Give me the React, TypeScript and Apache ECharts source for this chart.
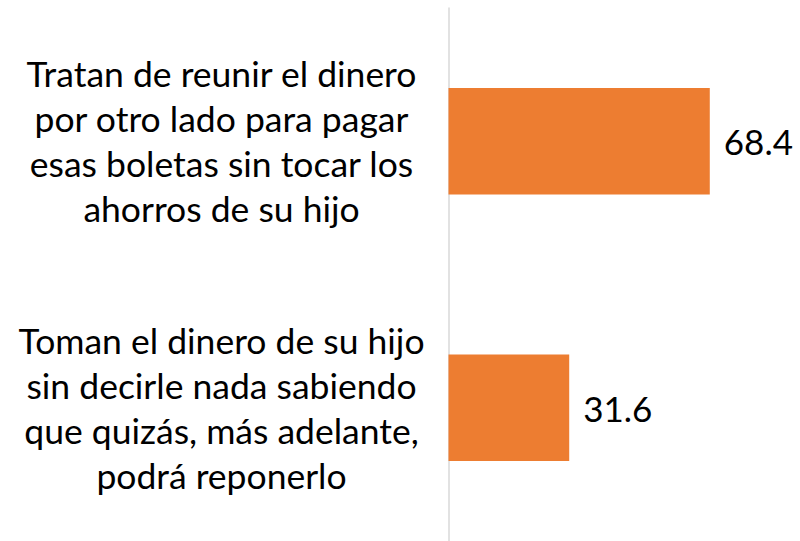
import React, { useEffect, useRef } from "react";
import * as echarts from "echarts";

const categories = [
  "Tratan de reunir el dinero\npor otro lado para pagar\nesas boletas sin tocar los\nahorros de su hijo",
  "Toman el dinero de su hijo\nsin decirle nada sabiendo\nque quizás, más adelante,\npodrá reponerlo",
];
const values = [68.4, 31.6];

export default function App() {
  const ref = useRef<HTMLDivElement>(null);
  useEffect(() => {
    const chart = echarts.init(ref.current!, undefined, { renderer: "svg" });
    chart.setOption({
      animation: false,
      grid: { left: 448.5, right: 45.9, top: 8, bottom: -4, containLabel: false },
      xAxis: {
        type: "value",
        min: 0,
        max: 80,
        show: false,
      },
      yAxis: {
        type: "category",
        data: categories,
        inverse: true,
        axisLine: { show: true, lineStyle: { color: "#d9d9d9", width: 1.5 } },
        axisTick: { show: false },
        axisLabel: {
          align: "center",
          margin: 227,
          fontFamily: "Lato",
          fontSize: 35.5,
          lineHeight: 45,
          color: "#000",
        },
      },
      series: [
        {
          type: "bar",
          data: values,
          barWidth: "40%",
          itemStyle: { color: "#ED7D31" },
          label: {
            show: true,
            position: "right",
            distance: 14,
            fontFamily: "Lato",
            fontSize: 35,
            color: "#000",
          },
        },
      ],
    });
    return () => chart.dispose();
  }, []);
  return <div ref={ref} style={{ width: 800, height: 541, position: "absolute", left: 0, top: 0 }} />;
}
